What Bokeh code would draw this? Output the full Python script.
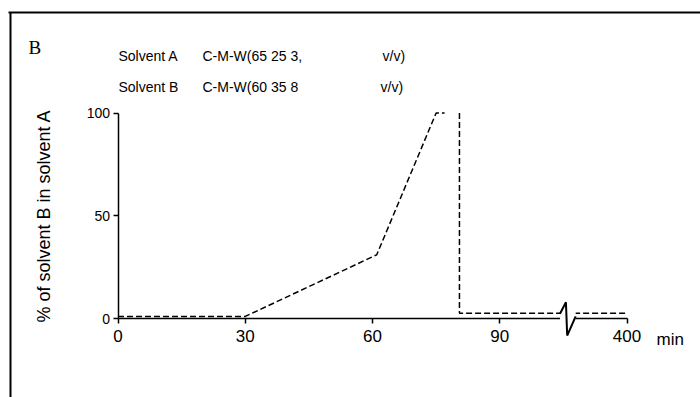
from bokeh.plotting import figure
from bokeh.models import Range1d, FixedTicker, BoxAnnotation
from bokeh.core.properties import value
from bokeh.embed import file_html
from bokeh.resources import INLINE

# ---------------- data ----------------
# gradient program: % of solvent B in solvent A versus time (min)
grad_time = [0, 30, 61, 75, 77]
grad_pct = [1, 1, 31, 100, 100]
reset_time = [80.5, 80.5, 400]
reset_pct = [100, 2.5, 2.5]
x_tick_minutes = [0, 30, 60, 90, 400]
x_tick_labels = ["0", "30", "60", "90", "400"]
y_ticks = [0, 50, 100]
y_tick_labels = ["0", "50", "100"]
# axis-break symbol (in axis positions / % units)
break_pos = [104.2, 105.6, 105.9, 107.9]
break_pct = [2.3, 7.9, -8.3, 1.0]
title_letter = "B"
solvent_a = ["Solvent A", "C-M-W(65 25 3,", "v/v)"]
solvent_b = ["Solvent B", "C-M-W(60 35 8", "v/v)"]
y_label = "% of solvent B in solvent A"
x_unit = "min"


def pos(t):
    """broken time axis: linear to 90 min, then 90-400 min compressed."""
    return t if t <= 90 else 90 + (t - 90) * 30 / 310


# ---------------- layout (page pixels -> data) ----------------
W, H = 700, 397
px_x = 509 / 120
px_y = 205.5 / 100
x_start = -117.5 / px_x
x_end = x_start + W / px_x
y_end = 318 / px_y
y_start = y_end - H / px_y


def X(px):
    return x_start + px / px_x


def Y(py):
    return y_end - py / px_y


FONT = "Liberation Sans"

p = figure(width=W, height=H, x_range=Range1d(x_start, x_end),
           y_range=Range1d(y_start, y_end), output_backend="svg",
           toolbar_location=None, min_border=0)
p.outline_line_color = None
p.grid.visible = False
p.background_fill_color = "white"
p.border_fill_color = "white"

tick_pos = [int(round(pos(t))) for t in x_tick_minutes]

xa = p.xaxis[0]
xa.fixed_location = 0
xa.bounds = (0, tick_pos[-1])
xa.ticker = FixedTicker(ticks=tick_pos)
xa.major_label_overrides = {tp: lbl for tp, lbl in zip(tick_pos, x_tick_labels)}
xa.minor_tick_line_color = None
xa.major_tick_in = 0
xa.major_tick_out = 5
xa.axis_line_width = 1.5
xa.major_tick_line_width = 1.5
xa.major_label_standoff = 6
xa.major_label_text_font = FONT
xa.major_label_text_font_size = "17px"
xa.major_label_text_color = "black"
xa.axis_line_color = "black"
xa.major_tick_line_color = "black"

ya = p.yaxis[0]
ya.fixed_location = 0
ya.bounds = (0, 100)
ya.ticker = FixedTicker(ticks=y_ticks)
ya.major_label_overrides = {t: l for t, l in zip(y_ticks, y_tick_labels)}
ya.minor_tick_line_color = None
ya.major_tick_in = 0
ya.major_tick_out = 5
ya.axis_line_width = 1.5
ya.major_tick_line_width = 1.5
ya.major_label_standoff = 3
ya.major_label_text_font = FONT
ya.major_label_text_font_size = "14px"
ya.major_label_text_color = "black"
ya.axis_line_color = "black"
ya.major_tick_line_color = "black"
ya.axis_label = y_label
ya.axis_label_text_font = FONT
ya.axis_label_text_font_size = "18px"
ya.axis_label_text_font_style = "normal"
ya.axis_label_text_color = "black"
ya.axis_label_standoff = 30

# gradient lines
p.line([pos(t) for t in grad_time], grad_pct, line_dash="6 3",
       line_width=1.5, color="black")
p.line([pos(t) for t in reset_time], reset_pct, line_dash="6 3",
       line_width=1.5, color="black")

# axis break
gap = BoxAnnotation(left=min(break_pos), right=max(break_pos), bottom=-2.5,
                    top=4.5, fill_color="white", fill_alpha=1, line_color=None)
p.add_layout(gap)
zig = p.line(break_pos, break_pct, line_width=2, color="black")
zig.level = "overlay"

# panel rules (top and left edges of the scanned panel)
p.segment(x0=[X(8), X(10)], y0=[Y(12), Y(12)], x1=[X(700), X(10)],
          y1=[Y(12), Y(397)], line_color="black", line_width=2)

# texts
p.text(x=[X(28)], y=[Y(47)], text=[title_letter],
       text_font=value("Liberation Serif"), text_font_size="19px",
       text_baseline="alphabetic", text_align="left", text_color="black")

xs_a = [118, 202, 382]
for xp, t in zip(xs_a, solvent_a):
    p.text(x=[X(xp)], y=[Y(55)], text=[t], text_font=value(FONT),
           text_font_size="14px", text_baseline="alphabetic",
           text_align="left", text_color="black")
xs_b = [118, 202, 380]
for xp, t in zip(xs_b, solvent_b):
    p.text(x=[X(xp)], y=[Y(86)], text=[t], text_font=value(FONT),
           text_font_size="14px", text_baseline="alphabetic",
           text_align="left", text_color="black")

p.text(x=[X(656)], y=[Y(339)], text=[x_unit], text_font=value(FONT),
       text_font_size="17px", text_baseline="alphabetic", text_align="left",
       text_color="black")

open("out.html", "w").write(file_html(p, INLINE))
